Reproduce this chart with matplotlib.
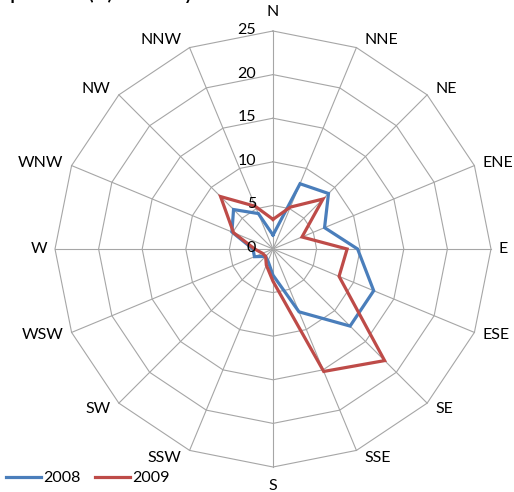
import numpy as np
import matplotlib
matplotlib.use("Agg")
import matplotlib.pyplot as plt
from matplotlib import transforms

plt.rcParams['font.family'] = ['Lato', 'DejaVu Sans']

directions = ["N", "NNE", "NE", "ENE", "E", "ESE", "SE", "SSE",
              "S", "SSW", "SW", "WSW", "W", "WNW", "NW", "NNW"]
values_2008 = [1.6, 8.1, 9.0, 6.4, 9.7, 12.5, 12.5, 7.8,
               3.0, 1.5, 1.2, 2.3, 2.3, 5.1, 6.4, 4.4]
values_2009 = [3.4, 5.2, 8.1, 3.6, 8.5, 8.2, 18.1, 15.2,
               3.7, 2.0, 1.2, 1.3, 2.1, 4.9, 8.5, 5.3]
r_ticks = [0, 5, 10, 15, 20, 25]
series_names = ["2008", "2009"]
title_text = "Speed rate (%) - Monthly"

colors = ["#4A7EBB", "#BE4B48"]
grid_color = "#A6A6A6"

W, H = 514, 492
fig = plt.figure(figsize=(W / 100, H / 100), dpi=100)
cx, cy, R = 273, 249, 218
ax = fig.add_axes([(cx - R) / W, (H - cy - R) / H, 2 * R / W, 2 * R / H],
                  projection='polar')
ax.set_theta_zero_location('N')
ax.set_theta_direction(-1)
ax.set_ylim(0, r_ticks[-1])
ax.grid(False)
ax.spines['polar'].set_visible(False)
ax.set_yticks([])
ax.set_xticks([])

n = len(directions)
angles = np.arange(n) * 2 * np.pi / n
closed = np.append(angles, angles[0])

# polygon gridlines
for r in r_ticks[1:]:
    ax.plot(closed, [r] * (n + 1), color=grid_color, lw=0.8, zorder=1,
            clip_on=False)
# spokes
for a in angles:
    ax.plot([a, a], [0, r_ticks[-1]], color=grid_color, lw=0.8, zorder=1,
            clip_on=False)

# radial labels
off = transforms.offset_copy(ax.transData, fig=fig, x=-17, y=1, units='dots')
for r in r_ticks:
    ax.text(0, r, str(r), transform=off, ha='right', va='center',
            fontsize=11.5, color='#000000', zorder=5)

# category labels (Excel-like placement)
for a, lab in zip(angles, directions):
    s, c = np.sin(a), np.cos(a)
    if abs(s) < 0.1:
        ha, dx, dy = 'center', 0, 19 * np.sign(c)
    else:
        ha = 'left' if s > 0 else 'right'
        dx, dy = 8 * np.sign(s), 8 * c
    ax.annotate(lab, xy=(a, r_ticks[-1]), xytext=(dx, dy),
                textcoords='offset pixels', ha=ha, va='center',
                fontsize=11.5, annotation_clip=False)

for vals, col, name in zip([values_2008, values_2009], colors, series_names):
    v = np.append(vals, vals[0])
    ax.plot(closed, v, color=col, lw=2.3, label=name, zorder=3,
            solid_joinstyle='miter', clip_on=False)

handles, labels = ax.get_legend_handles_labels()
fig.legend(handles, labels, loc='lower left', bbox_to_anchor=(-0.014, -0.012),
           ncol=2, frameon=False, fontsize=11.5, handlelength=2.2,
           handletextpad=0.15, columnspacing=0.9, borderpad=0.3)

fig.text(0.002, 1 - 3 / H, title_text, fontsize=12.5, fontweight='bold',
         va='bottom', ha='left')

fig.savefig("out.png", dpi=100)
